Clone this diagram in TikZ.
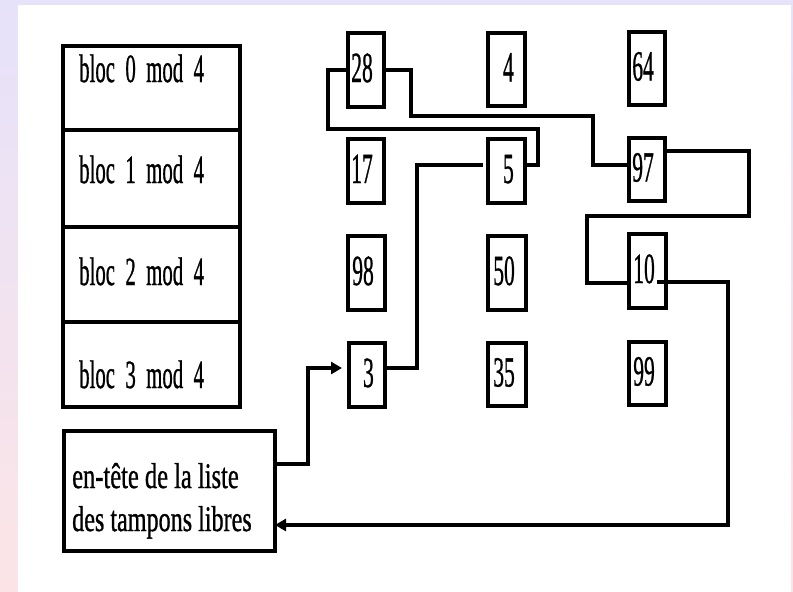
\documentclass[tikz,border=0pt]{standalone}
\usepackage{fontspec}
\setmainfont{Liberation Serif}
\newfontfamily\boldish[FakeBold=1]{Liberation Serif}
\usetikzlibrary{arrows.meta,calc}
\definecolor{lav}{RGB}{230,226,250}
\definecolor{pinkbg}{RGB}{252,228,230}
\newcommand\wsp{\spaceskip=20pt\relax}
\newcommand\bx[5]{\node[box,minimum width={(#4-#2)*1pt},minimum height={(#5-#3)*1pt}] (#1) at ({(#2+#4)/2},{(#3+#5)/2}) {};}
\newcommand\nm[2]{\node[num] (n#1) at ($(#2.east)+(-11,12)$) {\scalebox{0.5}[1]{#1}};}
\begin{document}
\begin{tikzpicture}[x=1pt,y=-1pt,
  box/.style={draw, line width=3.4pt, inner sep=0pt, outer sep=0pt},
  link/.style={line width=3.2pt, line join=miter},
  num/.style={anchor=base east, inner sep=0pt, font=\boldish\fontsize{43}{43}\selectfont},
  lbl/.style={anchor=base west, inner sep=0pt, font=\boldish\fontsize{40}{40}\selectfont},
  hlbl/.style={anchor=base west, inner sep=0pt, font=\boldish\fontsize{36}{36}\selectfont},
  tip/.style={-{Triangle[length=11pt,width=12pt]}}
]
\useasboundingbox (0,0) rectangle (793,592);
\shade[top color=lav, bottom color=pinkbg] (0pt,0pt) rectangle (793pt,-592pt);
\fill[white] (18,5) rectangle (791,592);

% left column of blocks
\bx{blk0}{63}{46}{240}{130}
\bx{blk1}{63}{130}{240}{227}
\bx{blk2}{63}{227}{240}{322}
\bx{blk3}{63}{322}{240}{407}
\node[lbl] (t0) at (79,82) {\wsp\scalebox{0.52}[1]{bloc 0 mod 4}};
\node[lbl] (t1) at (79,183) {\wsp\scalebox{0.52}[1]{bloc 1 mod 4}};
\node[lbl] (t2) at (79,285) {\wsp\scalebox{0.52}[1]{bloc 2 mod 4}};
\node[lbl] (t3) at (79,388) {\wsp\scalebox{0.52}[1]{bloc 3 mod 4}};

% head of free list
\bx{head}{64}{431}{275}{551}
\node[hlbl] (h1) at (72,488) {\scalebox{0.68}[1]{en-tête de la liste}};
\node[hlbl] (h2) at (72,531) {\scalebox{0.67}[1]{des tampons libres}};

% buffers
\bx{b28}{348}{33}{384}{107}
\bx{b4}{488}{33}{525}{106}
\bx{b64}{629}{32}{665}{105}
\bx{b17}{348}{139}{384}{203}
\bx{b5}{488}{139}{525}{203}
\bx{b97}{629}{138}{665}{201}
\bx{b98}{348}{236}{385}{310}
\bx{b50}{488}{236}{526}{310}
\bx{b10}{629}{234}{666}{308}
\bx{b3}{349}{343}{385}{407}
\bx{b35}{488}{343}{526}{406}
\bx{b99}{629}{342}{666}{405}
\nm{28}{b28}\nm{4}{b4}\nm{64}{b64}
\nm{17}{b17}\nm{5}{b5}\nm{97}{b97}
\nm{98}{b98}\nm{50}{b50}\nm{10}{b10}
\nm{3}{b3}\nm{35}{b35}\nm{99}{b99}

% links
\draw[link,tip,shorten >=7pt] (head.east |- 0,464) -- (308,464) -- (308,368) -- (b3.west |- 0,368);
\draw[link] (b3.east |- 0,368) -- (417,368) -- (417,165) -- (483,165);
\draw[link] (b5.east |- 0,165) -- (538,165) -- (538,129) -- (328,129) -- (328,70) -- (b28.west |- 0,70);
\draw[link] (b28.east |- 0,70) -- (411,70) -- (411,116) -- (593,116) -- (593,165) -- (b97.west |- 0,165);
\draw[link] (b97.east |- 0,151) -- (749,151) -- (749,216) -- (587,216) -- (587,283) -- (b10.west |- 0,283);
\coordinate (c10) at (657,282);
\draw[link,tip] (c10) -- (728,282) -- (728,525) -- (head.east |- 0,525);
\end{tikzpicture}
\end{document}
